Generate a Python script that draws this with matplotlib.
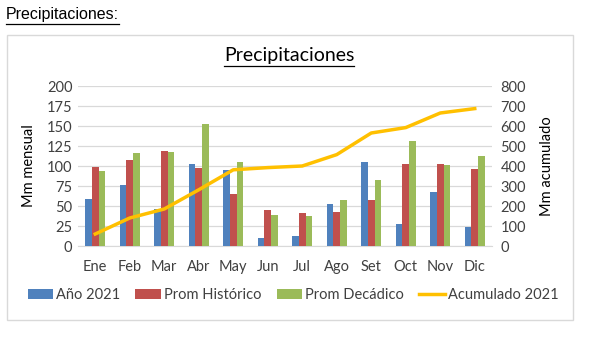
import numpy as np
import matplotlib
matplotlib.use("Agg")
import matplotlib.pyplot as plt
from matplotlib.lines import Line2D
from matplotlib.patches import Rectangle

# %%
# monthly values
meses = ["Ene", "Feb", "Mar", "Abr", "May", "Jun", "Jul", "Ago", "Set", "Oct", "Nov", "Dic"]
anio_2021 = [59, 76, 46, 103, 95, 10, 13, 52, 105, 28, 68, 24]
prom_historico = [99, 107, 119, 98, 65, 45, 41, 43, 57, 103, 102, 96]
prom_decadico = [94, 116, 118, 153, 105, 39, 38, 57, 83, 131, 101, 112]
acumulado_2021 = [60, 140, 185, 281, 381, 392, 400, 457, 565, 592, 665, 687]

c_blue = "#4F81BD"
c_red = "#C0504D"
c_green = "#9BBB59"
c_line = "#FFC000"

plt.rcParams["font.family"] = ["Lato", "DejaVu Sans"]

fig = plt.figure(figsize=(5.89, 3.47), dpi=100)
W, H = 589, 347


def underline(txt, off=2):
    fig.canvas.draw()
    bb = txt.get_window_extent(renderer=fig.canvas.get_renderer())
    y = bb.y0 - off
    fig.add_artist(Line2D([bb.x0 / W, bb.x1 / W], [y / H, y / H], color="black", lw=0.9,
                          transform=fig.transFigure))


# chart frame
fig.add_artist(Rectangle((7 / W, 1 - 320 / H), (573 - 7) / W, (320 - 35) / H, transform=fig.transFigure,
                         fill=False, edgecolor="#D9D9D9", lw=1))

ax = fig.add_axes([78 / W, 1 - 246 / H, (492 - 78) / W, (246 - 86) / H])
x = np.arange(len(meses))
w = 0.19
ax.bar(x - w, anio_2021, w, color=c_blue, label="Año 2021", zorder=3)
ax.bar(x, prom_historico, w, color=c_red, label="Prom Histórico", zorder=3)
ax.bar(x + w, prom_decadico, w, color=c_green, label="Prom Decádico", zorder=3)
ax.set_xlim(-0.5, len(meses) - 0.5)
ax.set_ylim(0, 200)
ax.set_yticks(np.arange(0, 201, 25))
ax.grid(axis="y", color="#D9D9D9", lw=0.9, zorder=0)
ax.set_xticks(x)
ax.set_xticklabels(meses)
for s in ["top", "right", "left"]:
    ax.spines[s].set_visible(False)
ax.spines["bottom"].set_color("#D9D9D9")
ax.tick_params(length=0, labelsize=10.5, colors="#404040", pad=4)
ax.tick_params(axis="x", pad=10)
ax.set_ylabel("Mm mensual", fontsize=10.5, color="black", labelpad=8)

ax2 = ax.twinx()
ax2.plot(x, acumulado_2021, color=c_line, lw=2.5, label="Acumulado 2021", zorder=4)
ax2.set_ylim(0, 800)
ax2.set_yticks(np.arange(0, 801, 100))
for s in ax2.spines.values():
    s.set_visible(False)
ax2.tick_params(length=0, labelsize=10.5, colors="#404040", pad=6)
ax2.set_ylabel("Mm acumulado", fontsize=10.5, color="black", labelpad=10)

h1, l1 = ax.get_legend_handles_labels()
h2, l2 = ax2.get_legend_handles_labels()
fig.legend(h1 + h2, l1 + l2, loc="center", bbox_to_anchor=(293 / W, 1 - 295 / H), ncol=4,
           frameon=False, fontsize=10.5, handlelength=1.75, handleheight=0.7, columnspacing=1.05,
           handletextpad=0.2, labelcolor="#404040")

t1 = fig.text(6 / W, 1 - 15 / H, "Precipitaciones:", family="Liberation Sans", fontsize=11.5,
              va="center", ha="left")
t2 = fig.text(289 / W, 1 - 56 / H, "Precipitaciones", fontsize=14, va="center", ha="center")
underline(t1, 1)
underline(t2, 1)

fig.savefig("out.png", dpi=100)
